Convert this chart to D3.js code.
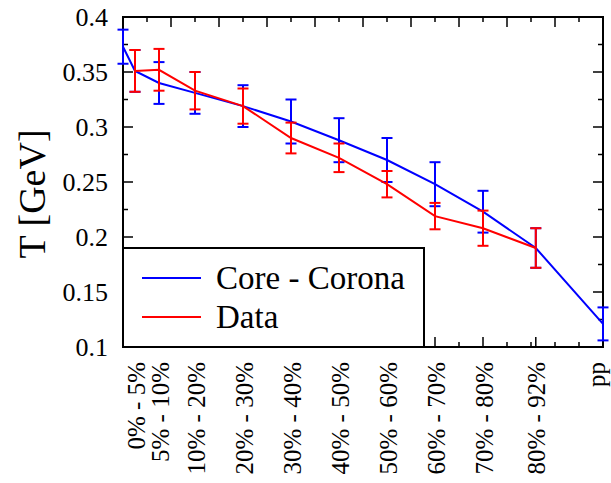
<!DOCTYPE html>
<html>
<head>
<meta charset="utf-8">
<script src="https://cdn.jsdelivr.net/npm/d3@7"></script>
<style>
  body { margin: 0; background: #fff; }
  text { font-family: "Liberation Serif", "DejaVu Serif", serif; fill: #000; }
</style>
</head>
<body>
<div id="chart"></div>
<script>
// centrality bins, placed at the bin centre on a 0..100 axis
var binLabels = ["0% - 5%", "5% - 10%", "10% - 20%", "20% - 30%", "30% - 40%",
                 "40% - 50%", "50% - 60%", "60% - 70%", "70% - 80%", "80% - 92%", "pp"];
var binPos = [2.5, 7.5, 15, 25, 35, 45, 55, 65, 75, 86, 100];

// core - corona model
var modelX = [0, 2.5, 7.5, 15, 25, 35, 45, 55, 65, 75, 86, 100];
var modelT = [0.373, 0.351, 0.340, 0.331, 0.319, 0.305, 0.288, 0.270, 0.248, 0.223, 0.190, 0.121];
var modelErr = [0.0155, 0.019, 0.019, 0.019, 0.019, 0.020, 0.020, 0.020, 0.020, 0.019, 0.018, 0.015];

// data
var dataX = [2.5, 7.5, 15, 25, 35, 45, 55, 65, 75, 86];
var dataT = [0.351, 0.352, 0.333, 0.319, 0.290, 0.272, 0.248, 0.219, 0.208, 0.190];
var dataErr = [0.019, 0.019, 0.017, 0.016, 0.014, 0.013, 0.012, 0.012, 0.016, 0.018];

var yTicks = [0.1, 0.15, 0.2, 0.25, 0.3, 0.35, 0.4];
var yTickLabels = ["0.1", "0.15", "0.2", "0.25", "0.3", "0.35", "0.4"];

var width = 611, height = 483;
var pl = 123, pr = 603, pt = 17, pb = 347;

var svg = d3.select("#chart").append("svg")
  .attr("width", width)
  .attr("height", height);

var x = d3.scaleLinear().domain([0, 100]).range([pl, pr]);
var y = d3.scaleLinear().domain([0.1, 0.4]).range([pb, pt]);

var ink = "#000";

// ticks: top every 5 (long at 10), bottom long at the bins, left/right every 0.025 (long at 0.05)
var xMinor = d3.range(0, 101, 5);
xMinor.forEach(function(v){
  var len = (v % 10 === 0) ? 10 : 5;
  svg.append("line")
    .attr("x1", x(v)).attr("x2", x(v))
    .attr("y1", pt).attr("y2", pt + len)
    .attr("stroke", ink).attr("stroke-width", 1.5);
  if (binPos.indexOf(v) < 0) {
    svg.append("line")
      .attr("x1", x(v)).attr("x2", x(v))
      .attr("y1", pb).attr("y2", pb - 5)
      .attr("stroke", ink).attr("stroke-width", 1.5);
  }
});
binPos.forEach(function(v){
  svg.append("line")
    .attr("x1", x(v)).attr("x2", x(v))
    .attr("y1", pb).attr("y2", pb - 10)
    .attr("stroke", ink).attr("stroke-width", 1.5);
});

var yMinor = d3.range(0, 13).map(function(i){ return 0.1 + i * 0.025; });
yMinor.forEach(function(v, i){
  var len = (i % 2 === 0) ? 10 : 5;
  svg.append("line")
    .attr("x1", pl).attr("x2", pl + len)
    .attr("y1", y(v)).attr("y2", y(v))
    .attr("stroke", ink).attr("stroke-width", 1.5);
  svg.append("line")
    .attr("x1", pr).attr("x2", pr - len)
    .attr("y1", y(v)).attr("y2", y(v))
    .attr("stroke", ink).attr("stroke-width", 1.5);
});

// frame
svg.append("rect")
  .attr("x", pl).attr("y", pt)
  .attr("width", pr - pl).attr("height", pb - pt)
  .attr("fill", "none")
  .attr("stroke", ink)
  .attr("stroke-width", 2);

// y tick labels
svg.selectAll(".ylab").data(yTicks).enter().append("text")
  .attr("class", "ylab")
  .attr("x", pl - 15)
  .attr("y", function(d){ return y(d); })
  .attr("dy", "0.35em")
  .attr("text-anchor", "end")
  .style("font-size", "26px")
  .text(function(d, i){ return yTickLabels[i]; });

// x tick labels, rotated ("pp" sits a little further left, like the original)
svg.selectAll(".xlab").data(binLabels).enter().append("text")
  .attr("class", "xlab")
  .attr("transform", function(d, i){ return "translate(" + x(binPos[i]) + "," + (pb + 15) + ") rotate(-90)"; })
  .attr("dy", function(d){ return d === "pp" ? "0.08em" : "0.38em"; })
  .attr("text-anchor", "end")
  .style("font-size", "25px")
  .text(function(d){ return d; });

// y axis title
svg.append("text")
  .attr("transform", "translate(45,194) rotate(-90)")
  .attr("text-anchor", "middle")
  .style("font-size", "38px")
  .text("T [GeV]");

function draw_series(xs, ts, errs, color){
  var pts = xs.map(function(v, i){ return [x(v), y(ts[i])]; });
  svg.append("path")
    .attr("d", d3.line()(pts))
    .attr("fill", "none")
    .attr("stroke", color)
    .attr("stroke-width", 2);
  xs.forEach(function(v, i){
    var cx = x(v), hi = y(ts[i] + errs[i]), lo = y(ts[i] - errs[i]);
    svg.append("line")
      .attr("x1", cx).attr("x2", cx).attr("y1", hi).attr("y2", lo)
      .attr("stroke", color).attr("stroke-width", 2);
    [hi, lo].forEach(function(yy){
      svg.append("line")
        .attr("x1", cx - 5.5).attr("x2", cx + 5.5).attr("y1", yy).attr("y2", yy)
        .attr("stroke", color).attr("stroke-width", 2);
    });
  });
}

draw_series(modelX, modelT, modelErr, "#0000ff");
draw_series(dataX, dataT, dataErr, "#ff0000");

// legend
svg.append("rect")
  .attr("x", pl).attr("y", 248)
  .attr("width", 424 - pl).attr("height", pb - 248)
  .attr("fill", "#fff")
  .attr("stroke", ink)
  .attr("stroke-width", 2);

var legendNames = ["Core - Corona", "Data"];
var legendColors = ["#0000ff", "#ff0000"];
legendNames.forEach(function(name, i){
  var ly = 278 + i * 39;
  svg.append("line")
    .attr("x1", 142).attr("x2", 201)
    .attr("y1", ly).attr("y2", ly)
    .attr("stroke", legendColors[i])
    .attr("stroke-width", 2);
  svg.append("text")
    .attr("x", 216)
    .attr("y", ly + 11)
    .style("font-size", "33px")
    .text(name);
});
</script>
</body>
</html>
